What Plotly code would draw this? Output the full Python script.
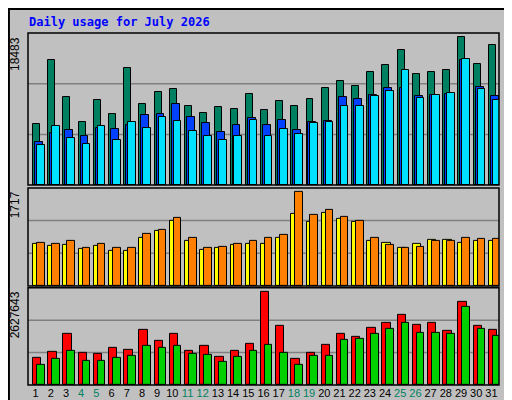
import plotly.graph_objects as go

days = list(range(1, 32))
weekend = [4, 5, 11, 12, 18, 19, 25, 26]

hits = [7569, 15598, 10956, 7820, 10580, 8824, 14595, 10078, 11584, 11960, 9827, 8949, 9702, 9451, 11333, 9325,
        10455, 9827, 10706, 12085, 12964, 12336, 14093, 14971, 16853, 13842, 14093, 14344, 18483, 15097, 17480]
files = [5437, 6440, 6816, 6064, 7067, 6942, 7444, 8698, 8824, 10078, 8447, 7695, 6565, 7444, 8322, 7444,
         8071, 6816, 7820, 7945, 10956, 10706, 11207, 12085, 12085, 11082, 11207, 11333, 15598, 12211, 11082]
pages = [5060, 7318, 5938, 5185, 7318, 5687, 7820, 7067, 8447, 7945, 6691, 6064, 5687, 6064, 8071, 6064,
         6942, 6315, 7695, 7820, 9827, 9827, 11082, 11709, 14344, 10831, 11207, 11458, 15724, 11960, 10580]
visits = [780, 743, 762, 687, 743, 649, 649, 874, 1005, 1193, 818, 668, 706, 762, 780, 780,
          874, 1324, 1174, 1342, 1230, 1174, 818, 799, 706, 780, 837, 837, 799, 818, 818]
sites = [799, 780, 818, 706, 780, 706, 706, 949, 1024, 1249, 874, 706, 724, 780, 818, 874,
         930, 1717, 1305, 1399, 1268, 1193, 874, 762, 706, 724, 818, 818, 874, 855, 855]
kb_f = [772800, 946700, 1439300, 917700, 888700, 1062600, 1004600, 1555300, 1236500, 1439300, 975700,
        1120600, 801800, 975700, 1178500, 2627643, 1671200, 743800, 917700, 1149500, 1439300, 1352400,
        1613200, 1758100, 1990000, 1700200, 1758100, 1526300, 2366700, 1671200, 1555300]
kb_in = [0] * 31
kb_out = [569900, 743800, 975700, 685900, 685900, 772800, 830800, 1120600, 1062600, 1120600, 888700,
          859700, 656900, 801800, 975700, 1149500, 917700, 569900, 830800, 830800, 1265500, 1294400,
          1439300, 1584200, 1758100, 1468300, 1468300, 1439300, 2221800, 1584200, 1381400]

BG = "#C0C0C0"
MONO = "DejaVu Sans Mono"
SANS = "Liberation Sans"

fig = go.Figure()


def add_bars(vals, color, off, width, yaxis):
    fig.add_trace(go.Bar(x=days, y=vals, offset=off, width=width, yaxis=yaxis,
                         marker=dict(color=color, line=dict(color="black", width=1)),
                         showlegend=False, hoverinfo="y"))


# panel 1: hits / files / pages
add_bars(hits, "#008060", -0.17, 0.46, "y")
add_bars(files, "#0040FF", -0.04, 0.52, "y")
add_bars(pages, "#00E0FF", 0.09, 0.5, "y")
# panel 2: visits / sites
add_bars(visits, "#FFFF00", -0.17, 0.55, "y2")
add_bars(sites, "#FF8000", 0.09, 0.5, "y2")
# panel 3: kB F / In / Out
add_bars(kb_f, "#FF0000", -0.17, 0.55, "y3")
add_bars(kb_in, "#0080FF", -0.04, 0.5, "y3")
add_bars(kb_out, "#00D000", 0.09, 0.5, "y3")

ticktext = [f"<span style='color:#008060'>{d}</span>" if d in weekend else str(d) for d in days]

domains = {"y": [0.568, 1.0], "y2": [0.281, 0.560], "y3": [0.0, 0.276]}
maxes = {"y": max(hits), "y2": max(sites), "y3": max(kb_f)}

yax = dict(showgrid=False, showticklabels=False, zeroline=False, fixedrange=True, automargin=False)
fig.update_layout(
    width=512, height=400, margin=dict(l=20, r=21, t=25, b=23, autoexpand=False),
    paper_bgcolor=BG, plot_bgcolor=BG, barmode="overlay", bargap=0,
    font=dict(family=SANS, size=12, color="black"),
    xaxis=dict(range=[0.5, 31.5], tickvals=days, ticktext=ticktext, ticks="", tickangle=0,
               automargin=False, showgrid=False, zeroline=False, anchor="y3",
               tickfont=dict(size=11, family=SANS), ticklen=0),
    yaxis=dict(domain=domains["y"], range=[0, maxes["y"] * 1.027], **yax),
    yaxis2=dict(domain=domains["y2"], range=[0, maxes["y2"] * 1.046], **yax),
    yaxis3=dict(domain=domains["y3"], range=[0, maxes["y3"] * 1.046], **yax),
)

shapes = [
    dict(type="rect", xref="paper", yref="paper", x0=-0.0405, x1=1.042, y0=-0.062, y1=1.068,
         line=dict(color="black", width=2), layer="below"),
]
for ax, (d0, d1) in domains.items():
    h = d1 - d0
    for f in (1 / 3, 2 / 3):
        shapes.append(dict(type="line", xref="paper", yref="paper", x0=0, x1=1,
                           y0=d0 + f * h, y1=d0 + f * h, line=dict(color="#808080", width=1.5), layer="below"))
    shapes.append(dict(type="rect", xref="paper", yref="paper", x0=0, x1=1, y0=d0, y1=d1,
                       line=dict(color="black", width=1.5)))
fig.update_layout(shapes=shapes)

ann = [dict(text="<b>Daily usage for July 2026</b>", xref="paper", yref="paper", x=-0.002, y=1.03,
            xanchor="left", yanchor="middle", showarrow=False, font=dict(color="#0000FF", size=12, family=MONO))]
labels = {
    "y": "<span style='color:#00E0FF'>Pages</span> / <span style='color:#0040FF'>Files</span> / <span style='color:#008060'>Hits</span>",
    "y2": "<span style='color:#FF8000'>Sites</span> / <span style='color:#FFFF00'>Visits</span>",
    "y3": "<span style='color:#FF0000'>kB F</span> / <span style='color:#0080FF'>kB In</span> / <span style='color:#00D000'>kB Out</span>",
}
for ax, (d0, d1) in domains.items():
    ann.append(dict(text=str(maxes[ax]), xref="paper", yref="paper", x=-0.008, y=d1 - 0.005,
                    xanchor="right", yanchor="top", textangle=-90, showarrow=False,
                    font=dict(size=12, family=SANS)))
    ann.append(dict(text=labels[ax], xref="paper", yref="paper", x=1.003, y=d1 - 0.005,
                    xanchor="left", yanchor="top", textangle=-90, showarrow=False,
                    font=dict(size=11, color="black", family=MONO)))
fig.update_layout(annotations=ann)

fig.write_html("out.html")
